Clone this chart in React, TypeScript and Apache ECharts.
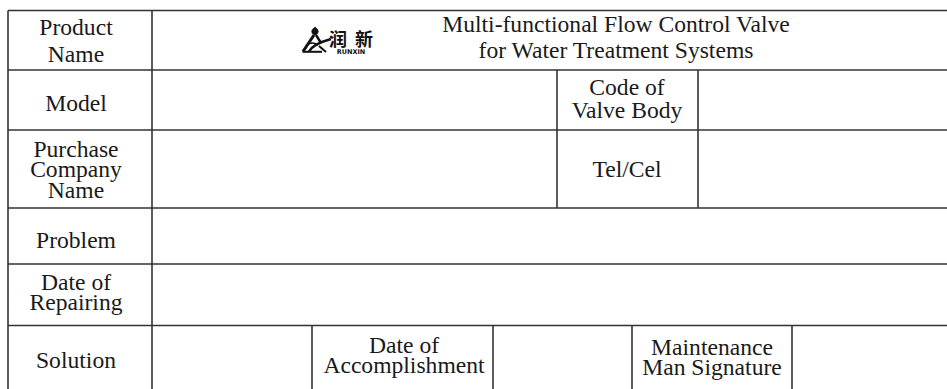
import React, { useEffect, useRef } from "react";
import * as echarts from "echarts";

// ---- content ----
const titleLines = ["Multi-functional Flow Control Valve", "for Water Treatment Systems"];
const leftLabels = [
  ["Product", "Name"],
  ["Model"],
  ["Purchase", "Company", "Name"],
  ["Problem"],
  ["Date of", "Repairing"],
  ["Solution"],
];
const midLabels = [["Code of", "Valve Body"], ["Tel/Cel"]];
const bottomLabels = [["Date of", "Accomplishment"], ["Maintenance", "Man Signature"]];
const brandCN = ["润", "新"];
const brandEN = "RUNXIN";

// ---- layout ----
const W = 947;
const H = 389;
const FS = 23.6;
const hLineY = [10.5, 70, 130, 208, 264, 325.5];
const vSegs: [number, number, number][] = [
  [8, 10.5, H],
  [152, 10.5, H],
  [557, 70, 208],
  [698, 70, 208],
  [312, 325.5, H],
  [493, 325.5, H],
  [632, 325.5, H],
  [792, 325.5, H],
];
const leftCx = 76;
const leftFirstBaseline = [35, 111.5, 157, 248, 290, 368];
const leftPitch = [26.7, 20, 20.5, 20, 20.5, 20];
const midCx = 627;
const midFirstBaseline = [95, 176.7];
const midPitch = [23, 20];
const bottomCx = [404, 712];
const bottomFirstBaseline = [353, 355];
const bottomPitch = [20, 20];
const titleCx = 616;
const titleFirstBaseline = 31.7;
const titlePitch = 26.6;

const SERIF = "Liberation Serif";

function block(lines: string[], cx: number, firstBaseline: number, pitch: number, fs = FS): any {
  const n = lines.length;
  const y = firstBaseline - 0.34 * fs + ((n - 1) * pitch) / 2;
  return {
    type: "text",
    silent: true,
    style: {
      text: lines.join("\n"),
      x: cx,
      y,
      fill: "#1a1a1a",
      fontSize: fs,
      fontFamily: SERIF,
      lineHeight: pitch,
      textAlign: "center",
      textVerticalAlign: "middle",
      align: "center",
      verticalAlign: "middle",
    },
  };
}

export default function App() {
  const ref = useRef<HTMLDivElement>(null);
  useEffect(() => {
    document.body.style.margin = "0";
    if (!ref.current) return;
    const chart = echarts.init(ref.current, undefined, { renderer: "svg" });
    const elements: any[] = [];
    elements.push({ type: "rect", silent: true, shape: { x: 0, y: 0, width: W, height: H }, style: { fill: "#ffffff" } });

    const lineStyle = { stroke: "#333333", lineWidth: 1.6 };
    hLineY.forEach((y) => {
      elements.push({ type: "line", silent: true, shape: { x1: 8, y1: y, x2: W, y2: y }, style: lineStyle });
    });
    vSegs.forEach(([x, y1, y2]) => {
      elements.push({ type: "line", silent: true, shape: { x1: x, y1, x2: x, y2 }, style: lineStyle });
    });

    leftLabels.forEach((lines, i) => elements.push(block(lines, leftCx, leftFirstBaseline[i], leftPitch[i])));
    midLabels.forEach((lines, i) => elements.push(block(lines, midCx, midFirstBaseline[i], midPitch[i])));
    bottomLabels.forEach((lines, i) => elements.push(block(lines, bottomCx[i], bottomFirstBaseline[i], bottomPitch[i])));
    elements.push(block(titleLines, titleCx, titleFirstBaseline, titlePitch));

    // logo icon
    const ink = "#111111";
    elements.push({ type: "circle", silent: true, shape: { cx: 315, cy: 31.5, r: 3.6 }, style: { fill: ink } });
    elements.push({ type: "polygon", silent: true, shape: { points: [[315, 26.5], [313, 29], [317, 29]] }, style: { fill: ink } });
    elements.push({ type: "polyline", silent: true, shape: { points: [[314, 35], [303, 51.5]] }, style: { stroke: ink, lineWidth: 3 } });
    elements.push({ type: "polyline", silent: true, shape: { points: [[316, 35], [321, 43]] }, style: { stroke: ink, lineWidth: 2.4 } });
    elements.push({ type: "line", silent: true, shape: { x1: 302.5, y1: 51.8, x2: 322, y2: 51.8 }, style: { stroke: ink, lineWidth: 2 } });
    elements.push({ type: "bezierCurve", silent: true, shape: { x1: 309, y1: 51.5, cpx1: 313, cpy1: 44, x2: 331, y2: 39 }, style: { stroke: ink, lineWidth: 2.6, fill: "none" } });
    elements.push({ type: "bezierCurve", silent: true, shape: { x1: 307, y1: 45, cpx1: 312, cpy1: 41, x2: 318, y2: 45 }, style: { stroke: ink, lineWidth: 1.6, fill: "none" } });
    elements.push({ type: "line", silent: true, shape: { x1: 319, y1: 46, x2: 326, y2: 52 }, style: { stroke: ink, lineWidth: 2 } });

    // logo text
    const cnX = [338, 364];
    brandCN.forEach((c, i) => {
      elements.push({
        type: "text",
        silent: true,
        style: {
          text: c,
          x: cnX[i],
          y: 38,
          fill: ink,
          fontSize: 18,
          fontWeight: "bold",
          fontFamily: "Noto Sans CJK SC",
          textAlign: "center",
          textVerticalAlign: "middle",
          align: "center",
          verticalAlign: "middle",
        },
      });
    });
    elements.push({
      type: "text",
      silent: true,
      style: {
        text: brandEN,
        x: 351,
        y: 51.5,
        fill: ink,
        fontSize: 6.5,
        fontWeight: "bold",
        fontFamily: "DejaVu Sans",
        textAlign: "center",
        textVerticalAlign: "middle",
        align: "center",
        verticalAlign: "middle",
      },
    });

    chart.setOption({ animation: false, graphic: { elements } });
    return () => chart.dispose();
  }, []);
  return <div ref={ref} style={{ width: W, height: H, background: "#fff" }} />;
}
